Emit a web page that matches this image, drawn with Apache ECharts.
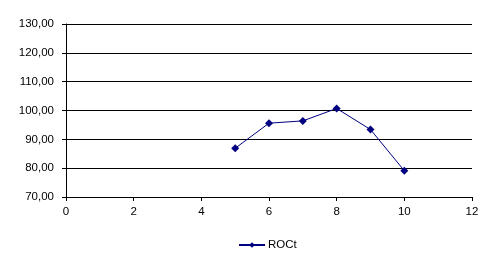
<!DOCTYPE html>
<html><head><meta charset="utf-8">
<script src="https://cdn.jsdelivr.net/npm/echarts@6/dist/echarts.min.js"></script>
<style>html,body{margin:0;padding:0;background:#fff}#c{width:497px;height:263px}</style>
</head><body><div id="c"></div>
<script>
const xValues = [5, 6, 7, 8, 9, 10];
const roct = [86.9, 95.6, 96.4, 100.7, 93.4, 79.1];
const seriesName = 'ROCt';

const chart = echarts.init(document.getElementById('c'), null, {renderer: 'canvas'});
const font = {fontFamily: 'Liberation Sans, Arial, sans-serif', fontSize: 11.5, color: '#000'};
chart.setOption({
  animation: false,
  backgroundColor: '#fff',
  grid: {left: 66, right: 25, top: 24, bottom: 66, containLabel: false},
  xAxis: {
    type: 'value', min: 0, max: 12, interval: 2,
    axisLine: {show: true, lineStyle: {color: '#000', width: 1}},
    axisTick: {show: true, length: 4, lineStyle: {color: '#000'}},
    axisLabel: Object.assign({margin: 9}, font),
    splitLine: {show: false}
  },
  yAxis: {
    type: 'value', min: 70, max: 130, interval: 10,
    axisLine: {show: true, lineStyle: {color: '#000', width: 1}},
    axisTick: {show: true, length: 4, lineStyle: {color: '#000'}},
    axisLabel: Object.assign({margin: 12, formatter: v => v.toFixed(2).replace('.', ',')}, font),
    splitLine: {show: true, lineStyle: {color: '#000', width: 1}}
  },
  legend: {
    data: [seriesName], top: 239, left: 238, padding: 0,
    itemWidth: 26, itemHeight: 7, itemGap: 4,
    textStyle: Object.assign({padding: [0, 0, 0, -2]}, font)
  },
  series: [{
    name: seriesName, type: 'line',
    data: xValues.map((x, i) => [x, roct[i]]),
    symbol: 'diamond', symbolSize: 8,
    lineStyle: {color: '#000080', width: 1},
    itemStyle: {color: '#000080'}
  }]
});
</script></body></html>
